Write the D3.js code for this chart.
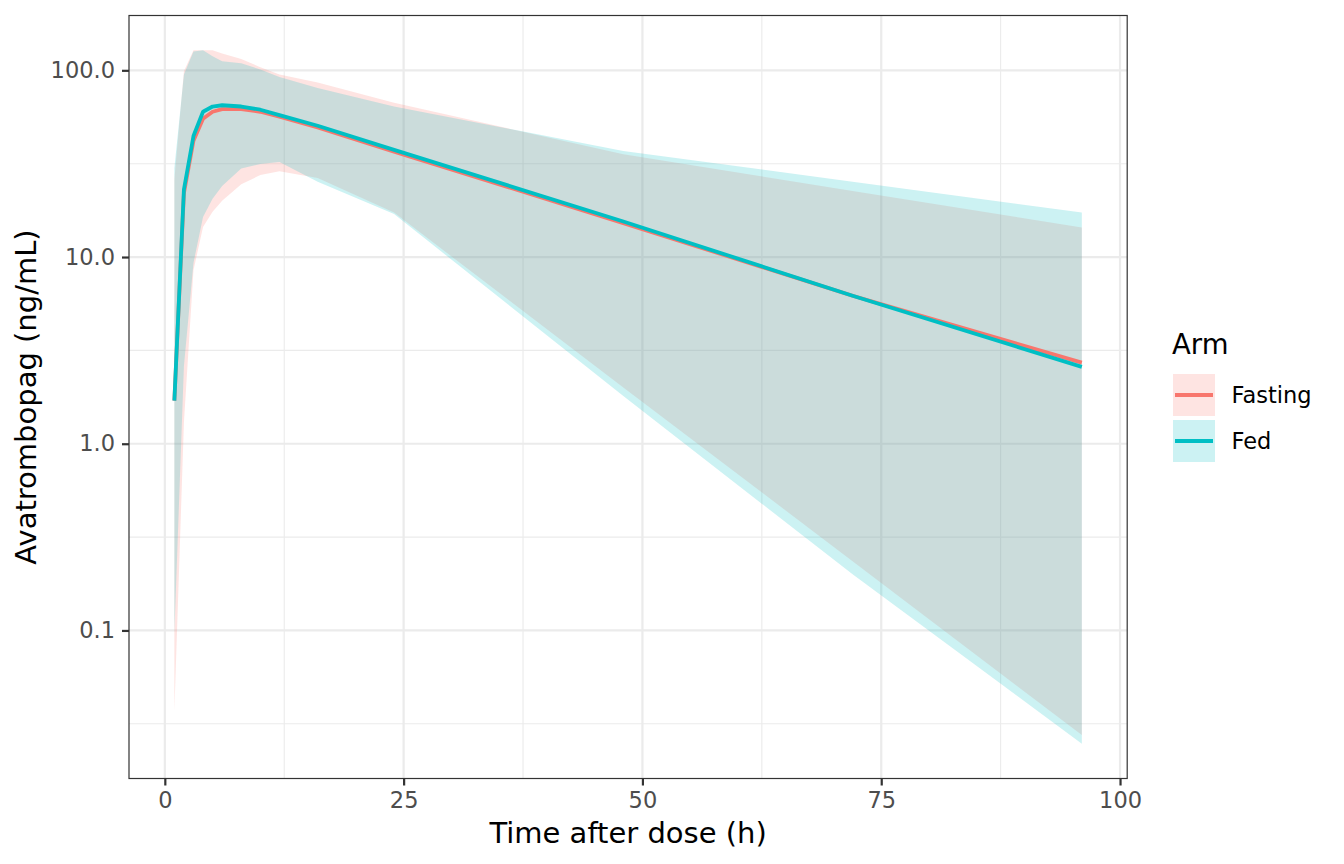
<!DOCTYPE html>
<meta charset="utf-8">
<style>
body { margin: 0; background: #fff; }
text { font-family: "DejaVu Sans", sans-serif; }
.axis .domain { display: none; }
</style>
<svg width="1344" height="864"></svg>
<script src="https://cdn.jsdelivr.net/npm/d3@7"></script>
<script>

// hours after dose
var time = [1, 2, 3, 4, 5, 6, 8, 10, 12, 16, 24, 48, 72, 96];

// Fasting arm: median and interval (ng/mL)
var fastingMid   = [1.7, 22, 42, 55, 60, 62, 62, 60, 56.5, 49.5, 36.7, 15.2, 6.2, 2.72];
var fastingLower = [0.037, 1.3, 8.5, 14.5, 17.5, 20, 24.5, 27.5, 28.8, 26.5, 17.3, 2.0, 0.235, 0.0275];
var fastingUpper = [26, 99, 128, 128.2, 128, 123, 115, 104, 95, 86, 67, 35.5, 22.6, 14.4];

// Fed arm
var fedMid   = [1.7, 23, 44.5, 60, 64, 65, 64, 61.5, 57.5, 50.5, 37.5, 15.5, 6.2, 2.58];
var fedLower = [0.097, 2.6, 9.3, 16.4, 20.5, 24.0, 29.8, 31.5, 32.3, 25.3, 17.0, 1.8, 0.2, 0.0247];
var fedUpper = [30, 95, 126, 128.2, 119, 112, 109, 101, 92, 80.5, 64, 37, 25.3, 17.3];

var arms = ["Fasting", "Fed"];

var xTicks = [0, 25, 50, 75, 100];
var xMinor = [12.5, 37.5, 62.5, 87.5];
var yTicks = [0.1, 1, 10, 100];
var yMinor = [Math.pow(10, -1.5), Math.pow(10, -0.5), Math.pow(10, 0.5), Math.pow(10, 1.5)];

var series = [
  {arm: "Fasting", mid: fastingMid, lo: fastingLower, hi: fastingUpper},
  {arm: "Fed", mid: fedMid, lo: fedLower, hi: fedUpper}
];

var svg = d3.select("svg"),
    panel = {left: 129, right: 1127.2, top: 15.5, bottom: 778.5};

svg.append("rect").attr("width", 1344).attr("height", 864).attr("fill", "#fff");

var color = d3.scaleOrdinal().domain(arms).range(["#F8766D", "#00BFC4"]);

// ggplot style 5% expansion
var xr = d3.extent(time), xpad = (xr[1] - xr[0]) * 0.05;
var x = d3.scaleLinear()
    .domain([xr[0] - xpad, xr[1] + xpad])
    .range([panel.left, panel.right]);

var allVals = d3.merge([fastingLower, fastingUpper, fedLower, fedUpper]);
var lr = d3.extent(allVals).map(Math.log10), lpad = (lr[1] - lr[0]) * 0.05;
var y = d3.scaleLog()
    .domain([Math.pow(10, lr[0] - lpad), Math.pow(10, lr[1] + lpad)])
    .range([panel.bottom, panel.top]);

var grid = svg.append("g").attr("stroke", "#EBEBEB");

grid.selectAll(".xminor").data(xMinor).enter().append("line")
    .attr("x1", x).attr("x2", x)
    .attr("y1", panel.top).attr("y2", panel.bottom)
    .attr("stroke-width", 1.1);
grid.selectAll(".yminor").data(yMinor).enter().append("line")
    .attr("y1", y).attr("y2", y)
    .attr("x1", panel.left).attr("x2", panel.right)
    .attr("stroke-width", 1.1);
grid.selectAll(".xmajor").data(xTicks).enter().append("line")
    .attr("x1", x).attr("x2", x)
    .attr("y1", panel.top).attr("y2", panel.bottom)
    .attr("stroke-width", 2.2);
grid.selectAll(".ymajor").data(yTicks).enter().append("line")
    .attr("y1", y).attr("y2", y)
    .attr("x1", panel.left).attr("x2", panel.right)
    .attr("stroke-width", 2.2);

var area = d3.area()
    .x(function(d) { return x(d.t); })
    .y0(function(d) { return y(d.lo); })
    .y1(function(d) { return y(d.hi); });

var line = d3.line()
    .x(function(d) { return x(d.t); })
    .y(function(d) { return y(d.mid); });

series.forEach(function(s) {
  s.rows = time.map(function(t, i) { return {t: t, mid: s.mid[i], lo: s.lo[i], hi: s.hi[i]}; });
});

svg.append("g").selectAll("path")
    .data(series)
    .enter().append("path")
      .attr("d", function(s) { return area(s.rows); })
      .attr("fill", function(s) { return color(s.arm); })
      .attr("fill-opacity", 0.2);

svg.append("g").selectAll("path")
    .data(series)
    .enter().append("path")
      .attr("d", function(s) { return line(s.rows); })
      .attr("fill", "none")
      .attr("stroke", function(s) { return color(s.arm); })
      .attr("stroke-width", 3.8)
      .attr("stroke-linejoin", "round");

svg.append("rect")
    .attr("x", panel.left).attr("y", panel.top)
    .attr("width", panel.right - panel.left)
    .attr("height", panel.bottom - panel.top)
    .attr("fill", "none")
    .attr("stroke", "#333333")
    .attr("stroke-width", 1.2);

var xAxis = svg.append("g")
    .attr("class", "axis")
    .attr("transform", "translate(0," + panel.bottom + ")")
    .call(d3.axisBottom(x).tickValues(xTicks).tickSize(7).tickPadding(7));

var yAxis = svg.append("g")
    .attr("class", "axis")
    .attr("transform", "translate(" + panel.left + ",0)")
    .call(d3.axisLeft(y).tickValues(yTicks).tickFormat(d3.format(".1f")).tickSize(7).tickPadding(7));

[xAxis, yAxis].forEach(function(a) {
  a.selectAll(".tick line").attr("stroke", "#333333").attr("stroke-width", 2.2);
  a.selectAll(".tick text")
      .attr("fill", "#4D4D4D")
      .attr("font-size", 22.5)
      .attr("font-family", "DejaVu Sans");
});

svg.append("text")
    .attr("x", (panel.left + panel.right) / 2)
    .attr("y", 843)
    .attr("text-anchor", "middle")
    .attr("font-size", 29)
    .text("Time after dose (h)");

svg.append("text")
    .attr("transform", "translate(36," + (panel.top + panel.bottom) / 2 + ") rotate(-90)")
    .attr("text-anchor", "middle")
    .attr("font-size", 29)
    .text("Avatrombopag (ng/mL)");

// legend
var legend = svg.append("g");

legend.append("text")
    .attr("x", 1172)
    .attr("y", 354)
    .attr("font-size", 27.5)
    .text("Arm");

var key = legend.selectAll(".key")
    .data(arms)
    .enter().append("g")
      .attr("transform", function(d, i) { return "translate(1173," + (374 + i * 46) + ")"; });

key.append("rect")
    .attr("width", 42)
    .attr("height", 42)
    .attr("fill", color)
    .attr("fill-opacity", 0.2);

key.append("line")
    .attr("x1", 2).attr("x2", 40)
    .attr("y1", 21).attr("y2", 21)
    .attr("stroke", color)
    .attr("stroke-width", 3.8);

key.append("text")
    .attr("x", 58.5)
    .attr("y", 29.3)
    .attr("font-size", 22.5)
    .text(function(d) { return d; });

</script>
